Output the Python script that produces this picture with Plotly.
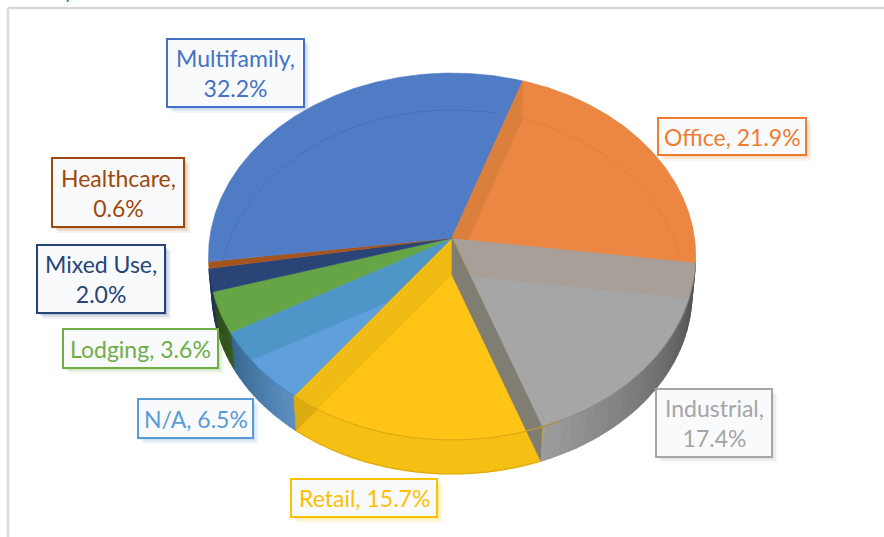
import numpy as np
import plotly.graph_objects as go

# ---- data ----
categories = ["Office", "Industrial", "Retail", "N/A", "Lodging", "Mixed Use", "Healthcare", "Multifamily"]
values = [21.9, 17.4, 15.7, 6.5, 3.6, 2.0, 0.6, 32.2]
label_breaks = [False, True, False, False, False, True, True, True]
label_colors = ["#ED7D31", "#A5A5A5", "#FFC000", "#5B9BD5", "#70AD47", "#264478", "#9E480E", "#4472C4"]
face_colors = ["#EC8743", "#A6A6A6", "#FFC416", "#5F9FDB", "#65A546", "#2A4478", "#A5541E", "#507CC6"]
band_colors = ["#DB7F3C", "#A89F98", "#EFBB14", "#4F96C8", "#65A546", "#2A4478", "#A5541E", "#507CC6"]
label_boxes = {"Office": (658, 118, 806, 155), "Industrial": (656, 389, 772, 457),
               "Retail": (291, 479, 437, 517), "N/A": (138, 399, 253, 438),
               "Lodging": (63, 329, 218, 368), "Mixed Use": (37, 245, 165, 313),
               "Healthcare": (52, 158, 184, 227), "Multifamily": (167, 39, 304, 107)}

# ---- view of the 3-D disc ----
START = 18.7
PX, PY = 452.0, 238.0
A, B, K = 242.3, 181.6, 0.1008
DROP = 37.0
BASE_SCALE = 0.985


def proj(theta, py=PY, sx=1.0, sy=1.0):
    t = np.radians(theta)
    u, v = np.sin(t), -np.cos(t)
    f = 1 / (1 - K * v)
    return PX + A * sx * u * f, py + B * sy * v * f


def base(theta):
    return proj(theta, PY + DROP, BASE_SCALE, BASE_SCALE)


def clip(poly, a, b, keep):
    """Keep the part of poly on the same side of line a-b as point keep."""
    def side(p):
        return (b[0] - a[0]) * (p[1] - a[1]) - (b[1] - a[1]) * (p[0] - a[0])
    sign = np.sign(side(keep))
    out = []
    for i in range(len(poly)):
        p, q = poly[i], poly[(i + 1) % len(poly)]
        sp, sq = side(p) * sign, side(q) * sign
        if sp >= 0:
            out.append(p)
        if sp * sq < 0:
            r = sp / (sp - sq)
            out.append((p[0] + r * (q[0] - p[0]), p[1] + r * (q[1] - p[1])))
    return out


def mix(c1, c2, r):
    a = [int(c1[i:i + 2], 16) for i in (1, 3, 5)]
    b = [int(c2[i:i + 2], 16) for i in (1, 3, 5)]
    return "#%02x%02x%02x" % tuple(int(round(x + (y - x) * r)) for x, y in zip(a, b))


fig = go.Figure()


def poly(points, color, line=None, width=0.6):
    xs = [p[0] for p in points] + [points[0][0]]
    ys = [p[1] for p in points] + [points[0][1]]
    fig.add_trace(go.Scatter(x=xs, y=ys, mode="lines", fill="toself", fillcolor=color,
                             line=dict(color=line or color, width=width),
                             hoverinfo="skip", showlegend=False))


def curve(points, color, width=0.8):
    fig.add_trace(go.Scatter(x=[p[0] for p in points], y=[p[1] for p in points], mode="lines",
                             line=dict(color=color, width=width), hoverinfo="skip", showlegend=False))


scale = 360.0 / sum(values)
edges = [START]
for val in values:
    edges.append(edges[-1] + val * scale)
slices = {c: (edges[i], edges[i + 1], i) for i, c in enumerate(categories)}


def wedge(a0, a1, py=PY):
    pts = [(PX, py)]
    for t in np.linspace(a0, a1, max(int((a1 - a0) * 2), 8)):
        pts.append(proj(t, py))
    return pts


# rim side walls (front half only), shaded in thin strips
side_shades = {"Industrial": ("#555555", "#A4A4A4", 105, 165),
               "Retail": ("#F5BF14", "#F5BF14", 160, 217),
               "N/A": ("#5C8FBF", "#34668F", 217, 240),
               "Lodging": ("#38591F", "#2A451A", 240, 253),
               "Mixed Use": ("#1F3358", "#1F3358", 253, 260)}
for cat, (c0, c1, t0, t1) in side_shades.items():
    a0, a1, _ = slices[cat]
    a0, a1 = max(a0, 96), min(a1, 268)
    grid = np.arange(a0, a1, 2.0)
    grid = np.append(grid, a1)
    for g0, g1 in zip(grid[:-1], grid[1:]):
        r = min(max((g0 - t0) / (t1 - t0), 0), 1)
        col = mix(c0, c1, r)
        poly([proj(g0), proj(g1), base(g1), base(g0)], col, col, 1.3)

# darker corner where the Retail cut shows through the rim
ret_end = slices["Retail"][1]
poly([(PX, PY), (PX, PY + DROP), base(ret_end), proj(ret_end)], "#DDAB12")

# top faces
for cat in categories:
    a0, a1, i = slices[cat]
    poly(wedge(a0, a1), band_colors[i])

# lit inner part of the front slices
for cat in ["Industrial", "Retail", "N/A"]:
    a0, a1, i = slices[cat]
    w = wedge(a0, a1)
    mid = proj((a0 + a1) / 2, PY + DROP + 5, 0.5, 0.5)
    apex = (PX, PY + DROP)
    w = clip(w, apex, (proj(a0)[0], proj(a0)[1] + DROP), mid)
    w = clip(w, apex, (proj(a1)[0], proj(a1)[1] + DROP), mid)
    poly(w, face_colors[i])

# Office: lit face, then darker band along its Multifamily edge
a0, a1, i = slices["Office"]
poly(wedge(a0, a1), face_colors[i])
o0 = proj(a0)
band = [(PX, PY), o0, (o0[0] - 1, o0[1] + 39), (PX, PY + DROP)]
band = clip(band, (PX, PY), proj(a1), proj((a0 + a1) / 2, PY, 0.5, 0.5))
poly(band, band_colors[i])

# faint back rim seen through the upper slices
m0, m1, _ = slices["Multifamily"]
curve([proj(t, PY + DROP, 0.955, 1.0) for t in np.linspace(m0 + 12, m1 - 7, 150)], "#4870B8", 1)
curve([proj(t, PY + DROP, 0.955, 1.0) for t in np.linspace(a0, a0 + 66, 100)], "#DE7F3E", 1)

# dark cut wall between Industrial and Retail
ind_end = slices["Industrial"][1]
wall = [(PX, PY), (PX, PY + DROP), base(ind_end), proj(ind_end)]
poly(wall, "#807D73")
rim_retail = [proj(t) for t in np.linspace(ind_end - 4, ind_end, 8)]
curve(rim_retail, "#D9A90F", 1.2)

# rim edges
i0, i1, _ = slices["Industrial"]
curve([proj(t) for t in np.linspace(i0 + 6, i1, 60)], "#7E7E7E", 0.8)
r0, r1, _ = slices["Retail"]
curve([proj(t) for t in np.linspace(r0, r1, 60)], "#D5A312", 0.9)
curve([base(t) for t in np.linspace(r0, r1, 60)], "#D8A612", 0.9)
n0, n1, _ = slices["N/A"]
curve([proj(t) for t in np.linspace(n0, n1, 30)], "#3F79AD", 0.8)

# ---- frame, label boxes, text ----
shapes = [
    dict(type="line", x0=8, x1=884, y0=8, y1=8, line=dict(color="#D9D9D9", width=2.5)),
    dict(type="line", x0=8, x1=8, y0=8, y1=537, line=dict(color="#D9D9D9", width=2.5)),
]
annotations = []
for i, cat in enumerate(categories):
    x0, y0, x1, y1 = label_boxes[cat]
    col = label_colors[i]
    for off, op in ((6, 0.07), (4, 0.12), (2, 0.16)):
        shapes.append(dict(type="rect", x0=x0 + off, x1=x1 + off, y0=y0 + off, y1=y1 + off,
                           fillcolor=col, opacity=op, line=dict(width=0)))
    shapes.append(dict(type="rect", x0=x0, x1=x1, y0=y0, y1=y1, fillcolor="#F9FAFC",
                       line=dict(color=col, width=2)))
    sep = "<br>" if label_breaks[i] else " "
    annotations.append(dict(x=(x0 + x1) / 2, y=(y0 + y1) / 2, xref="x", yref="y",
                            text=f"{cat},{sep}{values[i]:.1f}%", showarrow=False,
                            font=dict(family="Lato", size=23, color=col), align="center",
                            xanchor="center", yanchor="middle"))
annotations.append(dict(x=69, y=0, xref="x", yref="y", yshift=8, text="y", showarrow=False, yanchor="middle",
                        font=dict(family="Lato", size=18, color="#0070C0")))

fig.update_layout(
    width=884, height=537, margin=dict(l=0, r=0, t=0, b=0),
    paper_bgcolor="white", plot_bgcolor="white", showlegend=False,
    xaxis=dict(range=[0, 884], visible=False, fixedrange=True),
    yaxis=dict(range=[537, 0], visible=False, fixedrange=True),
    shapes=shapes, annotations=annotations,
)
fig.write_html("out.html", config={"displayModeBar": False},
               post_script="document.body.style.margin='0';document.documentElement.style.overflow='hidden';")
